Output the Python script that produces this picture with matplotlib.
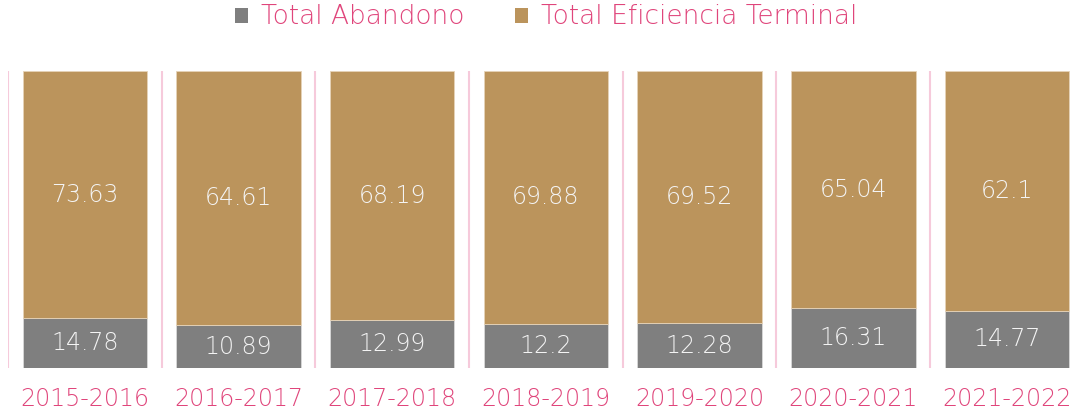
import numpy as np
import matplotlib
matplotlib.use("Agg")
import matplotlib.pyplot as plt
from matplotlib.patches import Patch

periodos = ["2015-2016", "2016-2017", "2017-2018", "2018-2019",
            "2019-2020", "2020-2021", "2021-2022"]
abandono = [14.78, 10.89, 12.99, 12.2, 12.28, 16.31, 14.77]
eficiencia = [73.63, 64.61, 68.19, 69.88, 69.52, 65.04, 62.1]
abandono_lbl = ["14.78", "10.89", "12.99", "12.2", "12.28", "16.31", "14.77"]
eficiencia_lbl = ["73.63", "64.61", "68.19", "69.88", "69.52", "65.04", "62.1"]

gris = "#7f7f7f"
oro = "#bb945c"
rosa = "#e0457b"
rosa_claro = "#f6cadb"

plt.rcParams['font.family'] = ['DejaVu Sans']

ab = np.array(abandono)
ef = np.array(eficiencia)
tot = ab + ef
ab_p = ab / tot * 100
ef_p = ef / tot * 100

fig = plt.figure(figsize=(10.73, 4.13), dpi=100)
ax = fig.add_axes([8/1073, 1-368/413, 7*153.7/1073, (368-71)/413])

x = np.arange(len(periodos))
w = 0.81
ax.bar(x, ab_p, w, color=gris, edgecolor="#d9d9d9", linewidth=0.6, zorder=2)
ax.bar(x, ef_p, w, bottom=ab_p, color=oro, edgecolor="#e6d3b8", linewidth=0.6, zorder=2)

for i in range(len(x)):
    ax.text(x[i], ab_p[i]/2, abandono_lbl[i], ha="center", va="center",
            color="#f4f4f4", fontsize=17, fontweight="light", zorder=3)
    ax.text(x[i], ab_p[i] + ef_p[i]/2, eficiencia_lbl[i], ha="center", va="center",
            color="#f4f4f4", fontsize=17, fontweight="light", zorder=3)

# separadores entre categorias
for b in np.arange(-0.5, len(x), 1.0):
    ax.axvline(b, color=rosa_claro, linewidth=1.5, zorder=1)

ax.set_xlim(-0.5, len(x) - 0.5)
ax.set_ylim(0, 100)
ax.set_xticks(x)
ax.set_xticklabels(periodos, color=rosa, fontsize=17, fontweight="light")
ax.tick_params(axis="x", length=0, pad=14)
ax.set_yticks([])
for s in ax.spines.values():
    s.set_visible(False)

handles = [Patch(facecolor=gris, label="Total Abandono"),
           Patch(facecolor=oro, label="Total Eficiencia Terminal")]
leg = fig.legend(handles=handles, loc="center", bbox_to_anchor=(546/1073, 1-17/413),
                 ncol=2, frameon=False, handlelength=0.5, handleheight=0.5,
                 handletextpad=0.5, columnspacing=1.9,
                 prop={"size": 19, "weight": "light"})
for t in leg.get_texts():
    t.set_color(rosa)

fig.savefig("out.png", dpi=100)
